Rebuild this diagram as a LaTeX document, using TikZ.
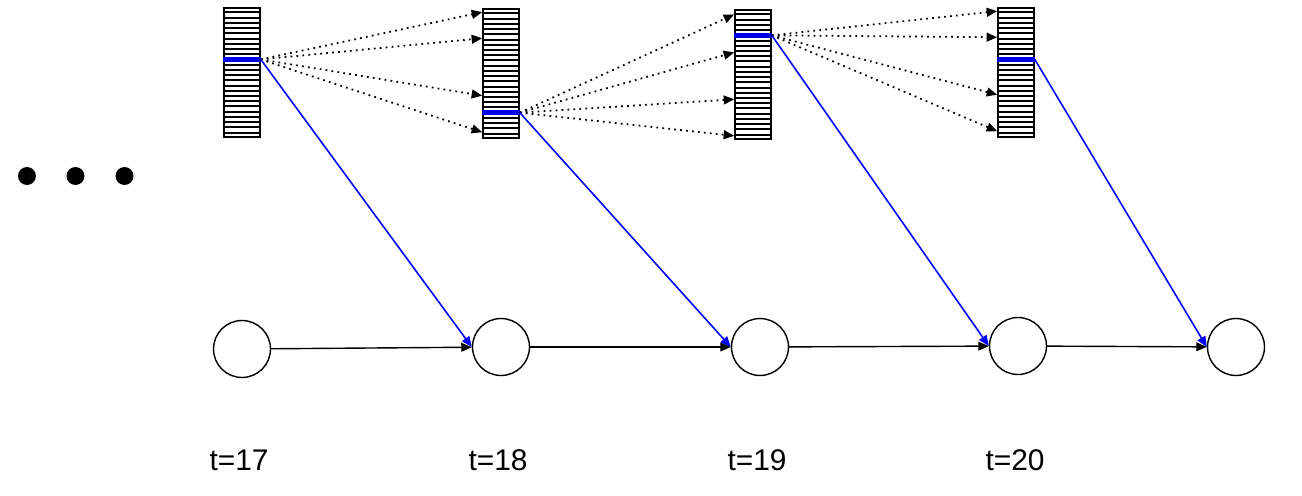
\documentclass[tikz,border=0pt]{standalone}
\usepackage{fontspec}
\setmainfont{Liberation Sans}
\usepackage{tikz}
\usetikzlibrary{positioning,arrows.meta,calc}

\begin{document}
\begin{tikzpicture}[x=0.02cm, y=-0.02cm,
  stack/.style={draw, line width=0.9pt, minimum width=0.72cm, minimum height=2.58cm, inner sep=0pt},
  stripe/.style={line width=1.1pt},
  sel/.style={draw=blue!90!black, line width=3pt},
  state/.style={draw, circle, line width=0.8pt, minimum size=1.14cm, inner sep=0pt},
  dot/.style={circle, fill=black, minimum size=0.36cm, inner sep=0pt},
  arr/.style={-{Triangle[length=6pt,width=5pt]}, line width=0.8pt},
  link/.style={arr, draw=blue, fill=blue, line width=0.9pt},
  jump/.style={arr, dash pattern=on 1pt off 2.4pt, line width=1pt},
  lbl/.style={font=\fontsize{17}{20}\selectfont, inner sep=0pt, anchor=base}]
\useasboundingbox (0,0) rectangle (1302,496);
\node[dot] (d1) at (27,176) {};
\node[dot] (d2) at (75.5,176) {};
\node[dot] (d3) at (124.5,176) {};
\node[stack] (s1) at (242,72.5) {};
\node[stack] (s2) at (501,73.5) {};
\node[stack] (s3) at (753,74.5) {};
\node[stack] (s4) at (1016,72.5) {};
\node[state] (c1) at (242,349) {};
\node[state] (c2) at (501,347) {};
\node[state] (c3) at (760,347) {};
\node[state] (c4) at (1018,346) {};
\node[state] (c5) at (1236,347) {};
\node[lbl] (t17) at (239,471) {t=17};
\node[lbl] (t18) at (498,471) {t=18};
\node[lbl] (t19) at (757,471) {t=19};
\node[lbl] (t20) at (1015,471) {t=20};
\foreach \s/\k in {s1/10,s2/20,s3/5,s4/10}{
  \foreach \r in {1,...,24}
    \draw[stripe] ($(\s.north west)!\r/25!(\s.south west)$) -- ($(\s.north east)!\r/25!(\s.south east)$);
  \draw[sel] ($(\s.north west)!\k/25!(\s.south west)$) -- ($(\s.north east)!\k/25!(\s.south east)$) coordinate (\s-sel);
}
\foreach \f in {0.03,0.23,0.67,0.95} \draw[jump] (s1-sel) -- ($(s2.north west)!\f!(s2.south west)$);
\foreach \f in {0.04,0.33,0.69,0.97} \draw[jump] (s2-sel) -- ($(s3.north west)!\f!(s3.south west)$);
\foreach \f in {0.03,0.23,0.67,0.95} \draw[jump] (s3-sel) -- ($(s4.north west)!\f!(s4.south west)$);
\draw[link] (s1-sel) -- (c2.west);
\draw[link] (s2-sel) -- (c3.west);
\draw[link] (s3-sel) -- (c4.west);
\draw[link] (s4-sel) -- (c5.west);
\draw[arr] (c1) -- (c2); \draw[arr] (c2) -- (c3); \draw[arr] (c3) -- (c4); \draw[arr] (c4) -- (c5);
\end{tikzpicture}
\end{document}
